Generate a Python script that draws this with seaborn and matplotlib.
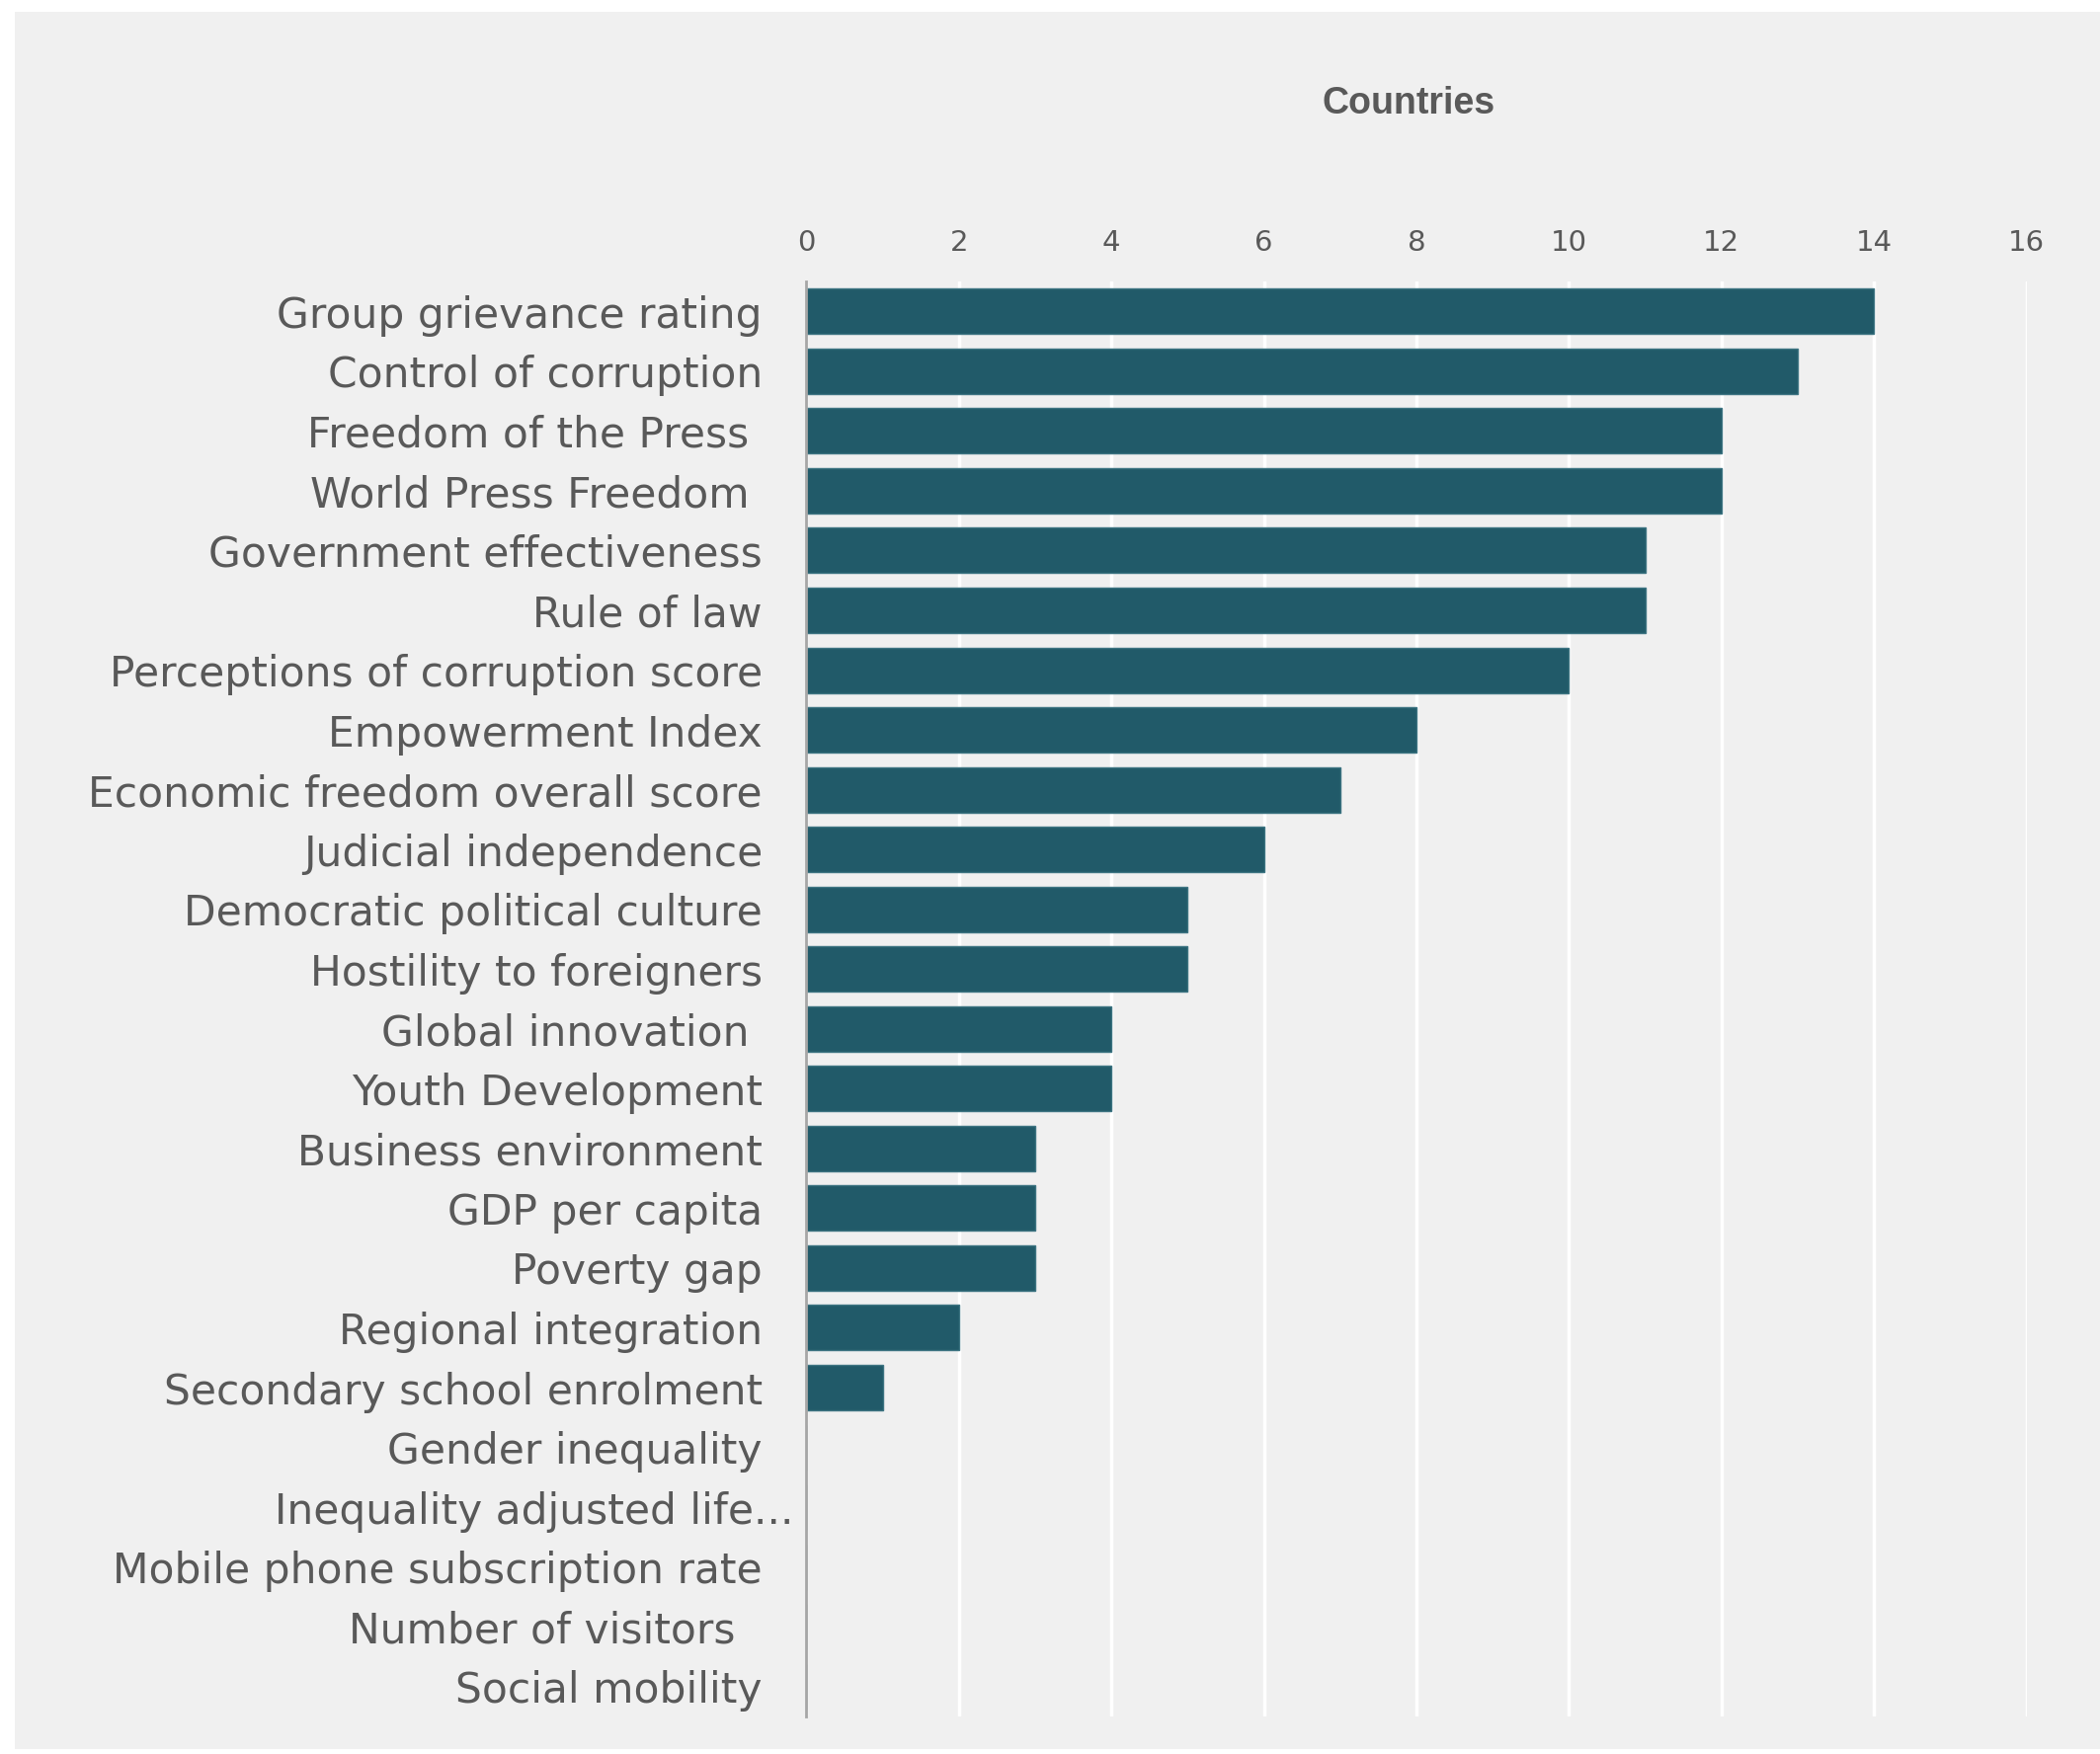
import matplotlib
matplotlib.use("Agg")
import matplotlib.pyplot as plt
import matplotlib.transforms as mtransforms
import seaborn as sns
import pandas as pd
from matplotlib.patches import Rectangle

# data
indicators = [
    "Group grievance rating",
    "Control of corruption",
    "Freedom of the Press ",
    "World Press Freedom ",
    "Government effectiveness",
    "Rule of law",
    "Perceptions of corruption score",
    "Empowerment Index",
    "Economic freedom overall score",
    "Judicial independence",
    "Democratic political culture",
    "Hostility to foreigners",
    "Global innovation ",
    "Youth Development",
    "Business environment",
    "GDP per capita",
    "Poverty gap",
    "Regional integration",
    "Secondary school enrolment",
    "Gender inequality",
    "Inequality adjusted life...",
    "Mobile phone subscription rate",
    "Number of visitors  ",
    "Social mobility",
]
countries = [14, 13, 12, 12, 11, 11, 10, 8, 7, 6, 5, 5, 4, 4, 3, 3, 3, 2, 1, 0, 0, 0, 0, 0]
x_ticks = [0, 2, 4, 6, 8, 10, 12, 14, 16]

df = pd.DataFrame({"indicator": indicators, "countries": countries})

sns.set_theme(style="white")
plt.rcParams["font.family"] = ["DejaVu Sans"]

bg = "#f0f0f0"
bar_col = "#215a69"
txt_col = "#595959"

fig = plt.figure(figsize=(21.26, 17.76), dpi=100)
fig.patch.set_facecolor("white")
fig.patches.append(Rectangle((0.007, 0.003), 0.993, 0.990, transform=fig.transFigure,
                             facecolor=bg, edgecolor="none", zorder=-10))

ax = fig.add_axes([0.384, 0.0214, 0.581, 0.8181])
ax.set_facecolor(bg)

sns.barplot(data=df, x="countries", y="indicator", orient="h", color=bar_col,
            width=0.76, edgecolor="#3d7482", linewidth=1, saturation=1, ax=ax)

ax.set_xlim(0, 16)
ax.set_ylim(len(indicators) - 0.5, -0.5)
ax.set_xticks(x_ticks)
ax.xaxis.tick_top()
ax.grid(axis="x", color="white", linewidth=2.5)
ax.set_axisbelow(True)

for s in ["top", "right", "bottom"]:
    ax.spines[s].set_visible(False)
ax.spines["left"].set_color("#a6a6a6")
ax.spines["left"].set_linewidth(2)

ax.tick_params(axis="x", length=0, labelsize=21, labelcolor=txt_col, pad=18)
ax.tick_params(axis="y", length=0, labelsize=30.5, labelcolor=txt_col, pad=32)
ax.set_xlabel("")
ax.set_ylabel("")

# the truncated label sticks out past the others in the original
for lab in ax.get_yticklabels():
    if lab.get_text().endswith("..."):
        lab.set_transform(lab.get_transform() + mtransforms.ScaledTranslation(0.32, 0, fig.dpi_scale_trans))

fig.text(0.671, 0.941, "Countries", ha="center", va="center", fontsize=27,
         fontweight="bold", color=txt_col, family=["Liberation Sans", "DejaVu Sans"])

fig.savefig("out.png", dpi=100, facecolor=fig.get_facecolor())
